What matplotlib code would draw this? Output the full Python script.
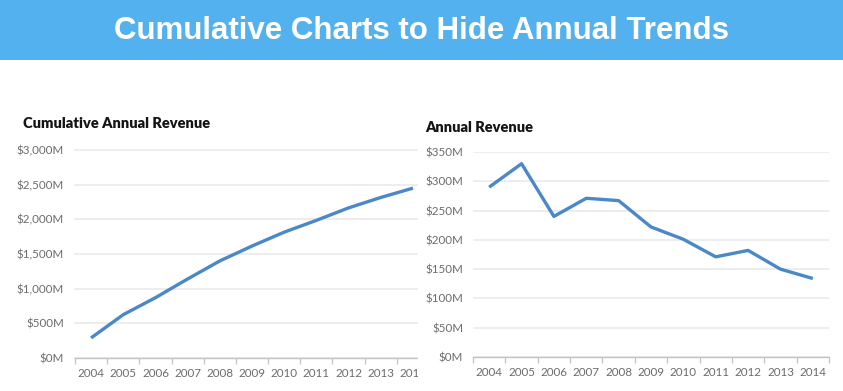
import matplotlib
matplotlib.use("Agg")
import matplotlib.pyplot as plt
from matplotlib.patches import Rectangle
from matplotlib.transforms import Bbox, TransformedBbox
from matplotlib.ticker import FuncFormatter, FixedLocator

# data
years = [2004, 2005, 2006, 2007, 2008, 2009, 2010, 2011, 2012, 2013, 2014]
cumulative = [290, 625, 870, 1140, 1400, 1615, 1815, 1985, 2165, 2315, 2450]
annual = [290, 330, 240, 271, 267, 222, 201, 171, 182, 150, 134]
cum_ticks = [0, 500, 1000, 1500, 2000, 2500, 3000]
ann_ticks = [0, 50, 100, 150, 200, 250, 300, 350]

banner_title = "Cumulative Charts to Hide Annual Trends"
left_title = "Cumulative Annual Revenue"
right_title = "Annual Revenue"

W, H = 843, 391
line_color = "#4a88c8"
grid_color = "#ececec"
tick_color = "#6c6c6c"

fig = plt.figure(figsize=(W / 100, H / 100), dpi=100)

# blue banner on top
fig.patches.append(Rectangle((0, 1 - 60 / H), 1, 60 / H, transform=fig.transFigure,
                             facecolor="#52b1ee", edgecolor="none", zorder=0))
fig.text(421 / W, 1 - 31 / H, banner_title, color="white", fontsize=22.5, fontweight="bold",
         family=["Liberation Sans"], ha="center", va="center")


def px_axes(x0, x1, ytop, ybot):
    return fig.add_axes([x0 / W, 1 - ybot / H, (x1 - x0) / W, (ybot - ytop) / H])


def style(ax, values, ticks, fmt, ylabel_pad):
    x = list(range(len(years)))
    ax.plot(x, values, color=line_color, lw=2.4, solid_capstyle="butt", zorder=3)
    ax.set_xlim(-0.5, len(years) - 0.5)
    ax.set_ylim(ticks[0], ticks[-1])
    ax.set_yticks(ticks)
    ax.yaxis.set_major_formatter(FuncFormatter(fmt))
    ax.set_xticks(x)
    ax.set_xticklabels([str(y) for y in years])
    ax.xaxis.set_minor_locator(FixedLocator([i - 0.5 for i in range(len(years) + 1)]))
    ax.tick_params(axis="x", which="major", length=0, pad=7.5, labelsize=8.4, labelcolor=tick_color)
    ax.tick_params(axis="x", which="minor", length=4, width=0.9, color="#c4c4c4")
    ax.tick_params(axis="y", length=0, pad=ylabel_pad, labelsize=8.4, labelcolor=tick_color)
    for s in ["top", "right", "left"]:
        ax.spines[s].set_visible(False)
    ax.spines["bottom"].set_color("#c4c4c4")
    ax.spines["bottom"].set_linewidth(1.0)
    ax.grid(axis="y", color=grid_color, lw=1.3)
    ax.set_axisbelow(True)
    for lab in ax.get_xticklabels() + ax.get_yticklabels():
        lab.set_family(["Lato", "DejaVu Sans"])


plt.rcParams["font.family"] = ["Lato", "DejaVu Sans"]

ax1 = px_axes(75, 429, 150, 358)
style(ax1, cumulative, cum_ticks, lambda v, p: "${:,.0f}M".format(v), 8)

ax2 = px_axes(473, 829, 152, 357)
style(ax2, annual, ann_ticks, lambda v, p: "${:.0f}M".format(v), 7)

fig.text(23 / W, 1 - 123 / H, left_title, fontsize=10.5, fontweight="heavy", color="#141414",
         family=["Lato", "DejaVu Sans"], ha="left", va="center")
fig.text(425 / W, 1 - 127 / H, right_title, fontsize=10.5, fontweight="heavy", color="#141414",
         family=["Lato", "DejaVu Sans"], ha="left", va="center")

# the left chart is cut off at the panel edge in the reference
fig.canvas.draw()
clip = TransformedBbox(Bbox([[0, 0], [418 / W, 1]]), fig.transFigure)
for art in ax1.get_lines() + ax1.get_ygridlines() + ax1.get_xticklabels() + \
        [t.tick1line for t in ax1.xaxis.get_minor_ticks()] + [ax1.spines["bottom"]]:
    art.set_clip_on(True)
    art.set_clip_box(clip)

fig.savefig("out.png", dpi=100)
